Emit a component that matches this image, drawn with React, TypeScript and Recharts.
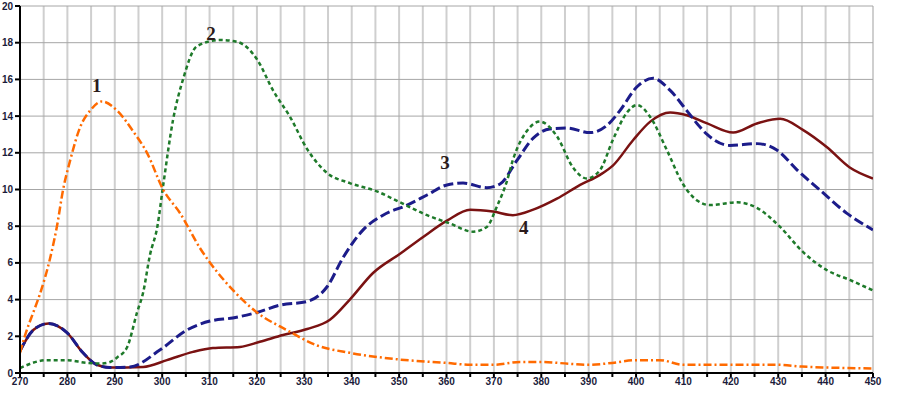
import React from 'react';
import { LineChart, Line, XAxis, YAxis, CartesianGrid, ReferenceDot } from 'recharts';

// Wavelength (nm) samples and values for each curve
const s1X = [270, 271, 272.8, 274.2, 276.3, 277.8, 279.1, 280.6, 282.7, 284.8, 287.3, 290.5, 293.8, 296.8, 300.2, 303.8, 308, 315, 320, 326.3, 332.7, 339.6, 349.5, 360, 365, 370, 375.5, 380, 386, 390, 395, 400, 405, 410, 420, 430, 435, 440, 450];
const s1Y = [1.1, 2.0, 3.3, 4.3, 6.2, 8.0, 10.0, 11.6, 13.4, 14.3, 14.8, 14.3, 13.2, 12.0, 10.0, 8.7, 6.8, 4.5, 3.3, 2.34, 1.5, 1.1, 0.75, 0.55, 0.45, 0.45, 0.6, 0.6, 0.5, 0.45, 0.55, 0.7, 0.7, 0.45, 0.45, 0.45, 0.35, 0.3, 0.25];

const s2X = [270, 275.7, 280, 284, 287, 289, 290.5, 292.6, 294.7, 296, 297.4, 299, 300.2, 302.3, 304.4, 307.3, 312.2, 315.8, 320, 323.4, 327, 330.6, 334.8, 339.6, 345.3, 350.2, 355.9, 360.7, 365.6, 368.5, 370.6, 372.8, 374, 377, 379.7, 383.3, 386.7, 389.6, 392.4, 395.1, 398.1, 400.2, 403, 406.5, 409.9, 412.9, 415.6, 421.3, 425.5, 430.4, 435.2, 440.3, 445.1, 450];
const s2Y = [0.27, 0.7, 0.7, 0.55, 0.52, 0.6, 0.85, 1.4, 3.3, 4.4, 6.4, 8.0, 10.2, 13.8, 16.0, 17.8, 18.15, 18.05, 17.1, 15.4, 13.95, 12.2, 10.9, 10.35, 9.9, 9.3, 8.6, 8.15, 7.7, 7.96, 9.05, 10.5, 11.6, 13.2, 13.7, 12.9, 11.2, 10.6, 11.06, 12.7, 14.2, 14.6, 13.95, 12.15, 10.3, 9.4, 9.15, 9.3, 9.0, 7.96, 6.6, 5.6, 5.07, 4.5];

const s3X = [270, 272.8, 276, 279.9, 283.3, 286.2, 289, 293.2, 299.5, 305.2, 310.1, 314.9, 320, 324.9, 330.6, 334.8, 338.2, 342.4, 346.6, 351.7, 355.9, 360.1, 363.5, 368.5, 371.3, 374.9, 378.3, 381.8, 385.4, 390.3, 393.9, 396.6, 400.2, 403.6, 407.2, 410.7, 413.5, 415, 419.8, 425.5, 429.7, 434, 438.8, 444.5, 450];
const s3Y = [1.2, 2.34, 2.7, 2.2, 1.1, 0.45, 0.3, 0.33, 1.25, 2.34, 2.83, 3.0, 3.3, 3.7, 3.9, 4.7, 6.3, 7.8, 8.6, 9.15, 9.7, 10.25, 10.35, 10.1, 10.3, 11.6, 12.8, 13.3, 13.35, 13.1, 13.5, 14.3, 15.6, 16.06, 15.4, 14.3, 13.4, 13.0, 12.4, 12.5, 12.15, 11.06, 9.97, 8.7, 7.8];

const s4X = [270, 272.8, 276, 279.9, 283.3, 286.2, 289, 296, 301, 306.5, 310.7, 316.4, 320.6, 325.5, 330.6, 335.4, 339.6, 344.5, 350.2, 355, 360.1, 365, 369.8, 374, 378.3, 383.3, 388.2, 392.4, 395.1, 399.4, 403, 407.2, 410.7, 415, 420.5, 425.5, 430.4, 435.2, 440.3, 445.1, 450];
const s4Y = [1.2, 2.34, 2.7, 2.2, 1.1, 0.45, 0.3, 0.33, 0.7, 1.15, 1.36, 1.42, 1.7, 2.07, 2.4, 2.9, 4.0, 5.45, 6.5, 7.4, 8.3, 8.9, 8.8, 8.6, 8.9, 9.5, 10.25, 10.8, 11.3, 12.7, 13.7, 14.2, 14.05, 13.6, 13.1, 13.6, 13.85, 13.25, 12.3, 11.2, 10.6];

const xTicks = [270, 275, 280, 285, 290, 295, 300, 305, 310, 315, 320, 325, 330, 335, 340, 345, 350, 355, 360, 365, 370, 375, 380, 385, 390, 395, 400, 405, 410, 415, 420, 425, 430, 435, 440, 445, 450];
const yTicks = [0, 2, 4, 6, 8, 10, 12, 14, 16, 18, 20];

const curveLabels = [
  { name: '1', x: 286.2, y: 15.7 },
  { name: '2', x: 310.3, y: 18.5 },
  { name: '3', x: 359.7, y: 11.5 },
  { name: '4', x: 376.3, y: 7.96 },
];

const toData = (xs: number[], ys: number[]) => xs.map((x, i) => ({ x, y: ys[i] }));

const d1 = toData(s1X, s1Y);
const d2 = toData(s2X, s2Y);
const d3 = toData(s3X, s3Y);
const d4 = toData(s4X, s4Y);

const tickStyle = { fontSize: 10, fontWeight: 700, fill: '#1b1b3a', fontFamily: 'Liberation Sans, Arial, sans-serif' };

export default function App() {
  return (
    <div style={{ position: 'absolute', left: 0, top: 0, width: 912, height: 395, background: '#fff' }}>
      <LineChart width={912} height={395} margin={{ top: 6, right: 39, bottom: 0, left: 0 }}>
        <CartesianGrid horizontal={false} stroke="#cfcfcf" strokeWidth={2} />
        <CartesianGrid vertical={false} stroke="#a6a6a6" strokeWidth={1} />
        <XAxis
          type="number"
          dataKey="x"
          domain={[270, 450]}
          ticks={xTicks}
          interval={0}
          allowDataOverflow
          tickFormatter={(v: number) => (v % 10 === 0 ? String(v) : '')}
          height={22}
          tickSize={4}
          tickMargin={1}
          stroke="#000"
          strokeWidth={2}
          tick={tickStyle}
        />
        <YAxis
          type="number"
          domain={[0, 20]}
          ticks={yTicks}
          interval={0}
          width={20}
          tickSize={5}
          tickMargin={2}
          stroke="#000"
          strokeWidth={2}
          tick={tickStyle}
        />
        <Line data={d4} dataKey="y" type="monotone" stroke="#7a1212" strokeWidth={2.5} dot={false} isAnimationActive={false} />
        <Line data={d3} dataKey="y" type="monotone" stroke="#1c1c8a" strokeWidth={3} strokeDasharray="10 4" dot={false} isAnimationActive={false} />
        <Line data={d2} dataKey="y" type="monotone" stroke="#1e7a2a" strokeWidth={2.5} strokeDasharray="4 3" dot={false} isAnimationActive={false} />
        <Line data={d1} dataKey="y" type="monotone" stroke="#ff6a00" strokeWidth={2.5} strokeDasharray="8 3 2 3" dot={false} isAnimationActive={false} />
        {curveLabels.map((l) => (
          <ReferenceDot
            key={l.name}
            x={l.x}
            y={l.y}
            r={0}
            fill="none"
            stroke="none"
            ifOverflow="visible"
            label={{ value: l.name, position: 'center', fill: '#2b1b1b', fontSize: 19, fontWeight: 700, fontFamily: 'Liberation Serif, serif' }}
          />
        ))}
      </LineChart>
    </div>
  );
}
